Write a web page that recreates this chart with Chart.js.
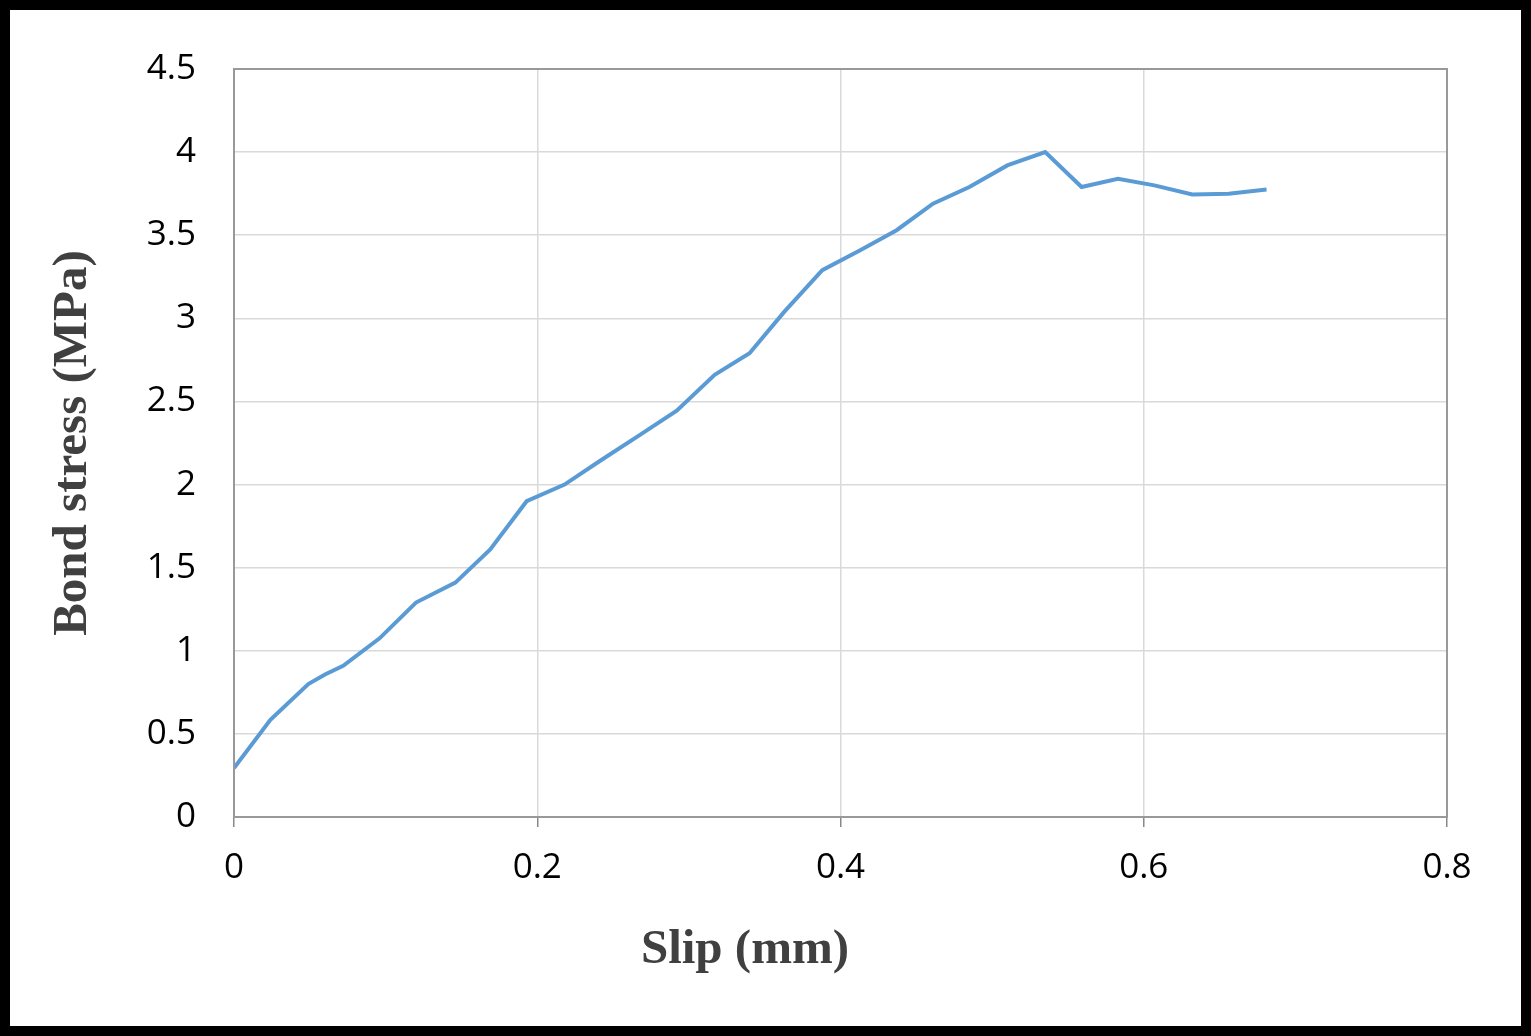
<!DOCTYPE html>
<html><head><meta charset="utf-8">
<script src="https://cdn.jsdelivr.net/npm/chart.js@4"></script>
<style>
html,body{margin:0;padding:0;background:#fff;}
#wrap{width:1511px;height:1016px;border:10px solid #000;position:relative;}
canvas{display:block;}
</style></head><body>
<div id="wrap"><canvas id="c" width="1511" height="1016"></canvas></div>
<script>
const slip = [0,0.024,0.049,0.060,0.072,0.096,0.120,0.146,0.169,0.193,0.218,0.241,0.268,0.292,0.317,0.340,0.363,0.388,0.413,0.437,0.461,0.485,0.510,0.535,0.559,0.583,0.607,0.632,0.656,0.681];
const stress = [0.295,0.585,0.80,0.857,0.91,1.075,1.29,1.41,1.61,1.90,2.0,2.14,2.30,2.445,2.66,2.79,3.04,3.29,3.41,3.53,3.69,3.79,3.92,4.0,3.79,3.84,3.80,3.745,3.75,3.775];
const xTitle = "Slip (mm)";
const yTitle = "Bond stress (MPa)";
const pts = slip.map((x,i)=>({x:x,y:stress[i]}));
new Chart(document.getElementById('c'),{
  type:'line',
  data:{datasets:[{data:pts,borderColor:'#5b9bd5',borderWidth:4,pointRadius:0,tension:0,fill:false}]},
  options:{
    responsive:false,animation:false,
    layout:{padding:{left:0,right:74,top:33,bottom:0}},
    plugins:{legend:{display:false},tooltip:{enabled:false}},
    scales:{
      x:{type:'linear',min:0,max:0.8,
        ticks:{stepSize:0.2,color:'#000',font:{family:'Open Sans',size:35},padding:20,callback:v=>String(Math.round(v*10)/10)},
        grid:{color:'#d9d9d9',lineWidth:1.5,tickLength:10,tickColor:'#888'},
        border:{color:'#888',width:2},
        title:{display:false},
        afterFit:a=>{a.height=209;}
      },
      y:{min:0,max:4.5,
        ticks:{stepSize:0.5,color:'#000',font:{family:'Open Sans',size:35},padding:38,callback:v=>String(Math.round(v*10)/10)},
        grid:{color:'#d9d9d9',lineWidth:1.5,tickLength:0},
        border:{color:'#888',width:2},
        title:{display:true,text:yTitle,color:'#404040',font:{family:'Liberation Serif',size:49,weight:'bold'},padding:{top:34,bottom:0}},
        afterFit:a=>{a.width=224;}
      }
    }
  },
  plugins:[{id:'box',afterDraw(c){const a=c.chartArea,g=c.ctx;g.save();g.strokeStyle='#999';g.lineWidth=2;g.strokeRect(a.left,a.top,a.right-a.left,a.bottom-a.top);
    g.fillStyle='#404040';g.font='bold 49px "Liberation Serif"';g.textAlign='center';g.textBaseline='middle';g.fillText(xTitle,735,940);g.restore();}}]
});
</script></body></html>
